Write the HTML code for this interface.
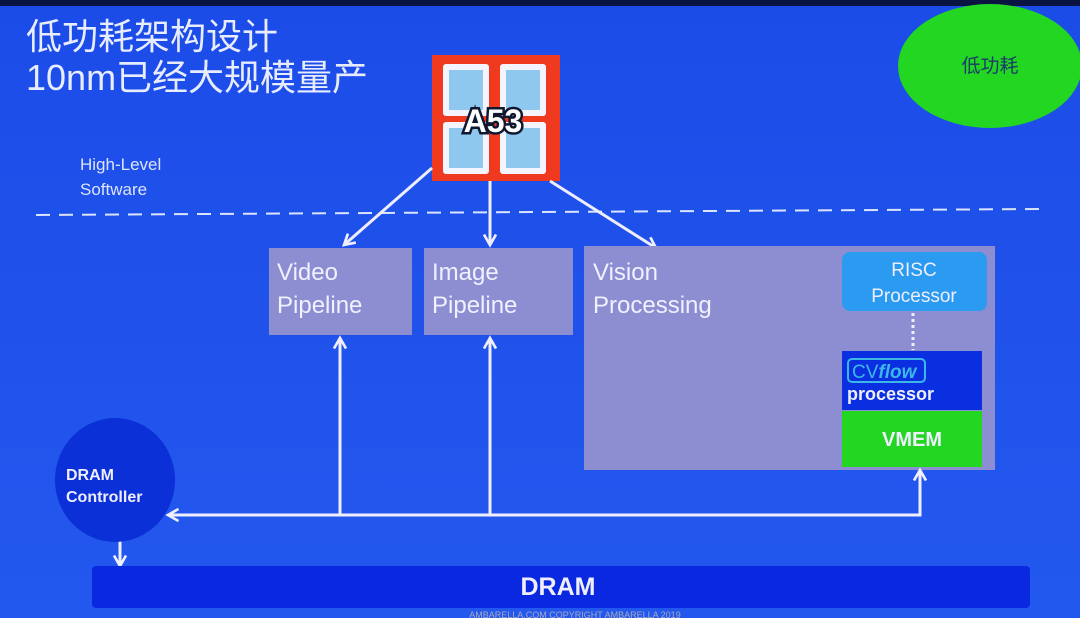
<!DOCTYPE html>
<html><head><meta charset="utf-8"><style>
html,body{margin:0;padding:0;background:#1f50e6;}
svg{display:block}
text{font-family:"Liberation Sans","Noto Sans CJK SC",sans-serif;}
</style></head><body>
<svg width="1080" height="618" viewBox="0 0 1080 618" xmlns="http://www.w3.org/2000/svg">
<defs>
<linearGradient id="bg" x1="0" y1="0" x2="0" y2="1"><stop offset="0" stop-color="#1c4ce8"/><stop offset="1" stop-color="#2358ee"/></linearGradient>
<marker id="ah" viewBox="0 0 10 10" refX="8" refY="5" markerWidth="5" markerHeight="5" orient="auto-start-reverse"><path d="M1,1 L8,5 L1,9" fill="none" stroke="#eef" stroke-width="1.8"/></marker>
</defs>
<rect width="1080" height="618" fill="url(#bg)"/>
<rect width="1080" height="6" fill="#0a1440"/>
<text x="26" y="49" font-size="36" fill="#e8ecff">低功耗架构设计</text>
<text x="26" y="90" font-size="36" fill="#e8ecff">10nm已经大规模量产</text>
<ellipse cx="990" cy="66" rx="92" ry="62" fill="#22d622"/>
<text x="990" y="72" font-size="19" fill="#1a3a6a" text-anchor="middle">低功耗</text>
<text x="80" y="170" font-size="17" fill="#dde4ff">High-Level</text>
<text x="80" y="195" font-size="17" fill="#dde4ff">Software</text>
<line x1="36" y1="215" x2="1045" y2="209" stroke="#dde4ff" stroke-width="2" stroke-dasharray="14,9"/>
<rect x="432" y="55" width="128" height="126" fill="#f03a20"/>
<g fill="#f4f4ff"><rect x="443" y="64" width="46" height="52" rx="3"/><rect x="500" y="64" width="46" height="52" rx="3"/><rect x="443" y="122" width="46" height="52" rx="3"/><rect x="500" y="122" width="46" height="52" rx="3"/></g>
<g fill="#8ec8ef"><rect x="449" y="70" width="34" height="40"/><rect x="506" y="70" width="34" height="40"/><rect x="449" y="128" width="34" height="40"/><rect x="506" y="128" width="34" height="40"/></g>
<text x="493" y="132" font-size="32" font-weight="bold" fill="#fff" stroke="#101830" stroke-width="5" paint-order="stroke" text-anchor="middle">A53</text>
<g stroke="#eef" stroke-width="3" fill="none" marker-end="url(#ah)">
<line x1="432" y1="168" x2="344" y2="245"/>
<line x1="490" y1="181" x2="490" y2="245"/>
<line x1="550" y1="181" x2="656" y2="248"/>
</g>
<rect x="269" y="248" width="143" height="87" fill="#8d8ed2"/>
<text x="277" y="280" font-size="24" fill="#f0f0ff">Video</text>
<text x="277" y="313" font-size="24" fill="#f0f0ff">Pipeline</text>
<rect x="424" y="248" width="149" height="87" fill="#8d8ed2"/>
<text x="432" y="280" font-size="24" fill="#f0f0ff">Image</text>
<text x="432" y="313" font-size="24" fill="#f0f0ff">Pipeline</text>
<rect x="584" y="246" width="411" height="224" fill="#8d8ed2"/>
<text x="593" y="280" font-size="24" fill="#f0f0ff">Vision</text>
<text x="593" y="313" font-size="24" fill="#f0f0ff">Processing</text>
<rect x="842" y="252" width="145" height="59" rx="8" fill="#2a9bf0"/>
<text x="914" y="276" font-size="19" fill="#eef" text-anchor="middle">RISC</text>
<text x="914" y="302" font-size="19" fill="#eef" text-anchor="middle">Processor</text>
<line x1="913" y1="313" x2="913" y2="350" stroke="#eef" stroke-width="3" stroke-dasharray="3,3"/>
<rect x="842" y="351" width="140" height="59" fill="#0a2fe0"/>
<rect x="848" y="359" width="77" height="23" rx="4" fill="none" stroke="#3cb8e8" stroke-width="2"/>
<text x="852" y="378" font-size="19" fill="#3cb8e8">CV<tspan font-style="italic" font-weight="bold">flow</tspan></text>
<text x="847" y="400" font-size="18" font-weight="bold" fill="#eef">processor</text>
<rect x="842" y="411" width="140" height="56" fill="#22d622"/>
<text x="912" y="446" font-size="20" font-weight="bold" fill="#eef" text-anchor="middle">VMEM</text>
<g stroke="#eef" stroke-width="3" fill="none">
<line x1="340" y1="515" x2="340" y2="338" marker-end="url(#ah)"/>
<line x1="490" y1="515" x2="490" y2="338" marker-end="url(#ah)"/>
<polyline points="920,470 920,515 168,515" marker-end="url(#ah)" marker-start="url(#ah)"/>
<line x1="120" y1="540" x2="120" y2="566" marker-end="url(#ah)"/>
</g>
<ellipse cx="115" cy="480" rx="60" ry="62" fill="#0b30d8"/>
<text x="66" y="480" font-size="16" font-weight="bold" fill="#eef">DRAM</text>
<text x="66" y="502" font-size="16" font-weight="bold" fill="#eef">Controller</text>
<rect x="92" y="566" width="938" height="42" rx="4" fill="#0a28e0"/>
<text x="558" y="595" font-size="25" font-weight="bold" fill="#eef" text-anchor="middle">DRAM</text>
<text x="575" y="618" font-size="9" fill="#aab" text-anchor="middle">AMBARELLA.COM COPYRIGHT AMBARELLA 2019</text>
</svg>
</body></html>
